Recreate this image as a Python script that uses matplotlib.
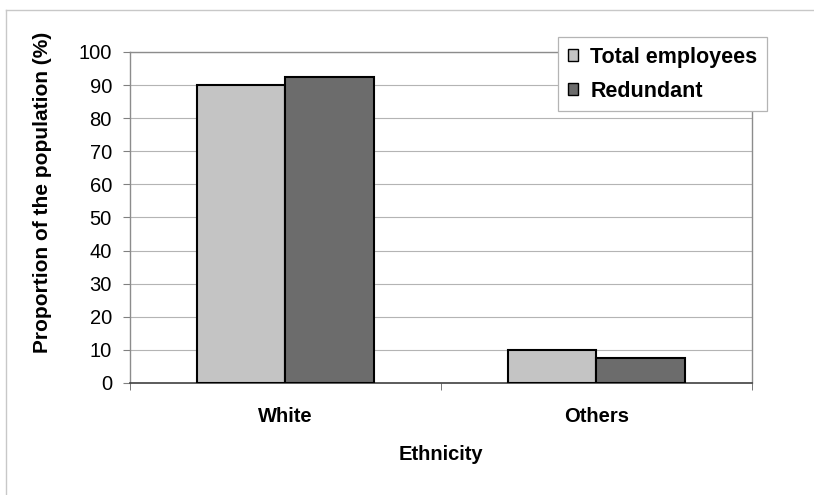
import numpy as np
import matplotlib
matplotlib.use('Agg')
import matplotlib.pyplot as plt
from matplotlib.lines import Line2D

# values
categories = ['White', 'Others']
total_employees = [90, 10]
redundant = [92.5, 7.5]
yTicks = np.arange(0, 101, 10)


def main():
    plt.rcParams['font.family'] = ['Liberation Sans', 'DejaVu Sans']

    f = plt.figure(figsize=(8.14, 4.95), dpi=100)
    ax = f.add_axes([0.1597, 0.2263, 0.7641, 0.6687])

    x = np.arange(len(categories))
    w = 1/3.5   # excel gap width 150%
    ax.bar(x - w/2, total_employees, width=w, color='#c4c4c4', edgecolor='black',
           linewidth=1.5, label='Total employees', zorder=3)
    ax.bar(x + w/2, redundant, width=w, color='#6c6c6c', edgecolor='black',
           linewidth=1.5, label='Redundant', zorder=3)

    ax.set_xlim(-0.5, len(categories) - 0.5)
    ax.set_ylim(0, 100)
    ax.set_yticks(yTicks)
    ax.set_yticklabels([str(v) for v in yTicks], fontsize=14.5)
    ax.set_xticks(x)
    ax.set_xticklabels(categories, fontsize=14.5, fontweight='bold')
    # category separators as tick marks
    ax.set_xticks(np.arange(len(categories) + 1) - 0.5, minor=True)
    ax.tick_params(axis='x', which='major', length=0, pad=17)
    ax.tick_params(axis='x', which='minor', length=5, color='#606060', direction='out')
    ax.tick_params(axis='y', length=5, color='#808080', direction='out', pad=8)

    ax.grid(axis='y', color='#b4b4b4', linewidth=0.8, zorder=0)
    ax.set_axisbelow(True)
    for s in ['left', 'right', 'top']:
        ax.spines[s].set_color('#8c8c8c')
        ax.spines[s].set_linewidth(1.0)
    ax.spines['bottom'].set_color('#404040')
    ax.spines['bottom'].set_linewidth(1.2)

    ax.set_ylabel('Proportion of the population (%)', fontsize=15, fontweight='bold')
    ax.yaxis.set_label_coords(-0.126, 0.577)
    ax.set_xlabel('Ethnicity', fontsize=14.5, fontweight='bold', labelpad=14)

    leg = f.legend(loc='upper left', bbox_to_anchor=(558/814, 1 - 37/495),
                   prop={'weight': 'bold', 'size': 15.5}, borderaxespad=0.0,
                   handlelength=0.5, handleheight=0.5, handletextpad=0.55,
                   labelspacing=0.6, borderpad=0.45, fancybox=False,
                   framealpha=1.0, edgecolor='#b4b4b4')
    leg.get_frame().set_linewidth(0.9)
    for h in leg.legend_handles:
        h.set_linewidth(1.0)

    # outer chart-area border (only top and left survive the crop)
    f.add_artist(Line2D([6/814, 1.0], [1 - 10/495, 1 - 10/495],
                        transform=f.transFigure, color='#c8c8c8', linewidth=1.0))
    f.add_artist(Line2D([6/814, 6/814], [0.0, 1 - 10/495],
                        transform=f.transFigure, color='#c8c8c8', linewidth=1.0))

    plt.savefig('out.png', dpi=100)


if __name__ == '__main__':
    main()
